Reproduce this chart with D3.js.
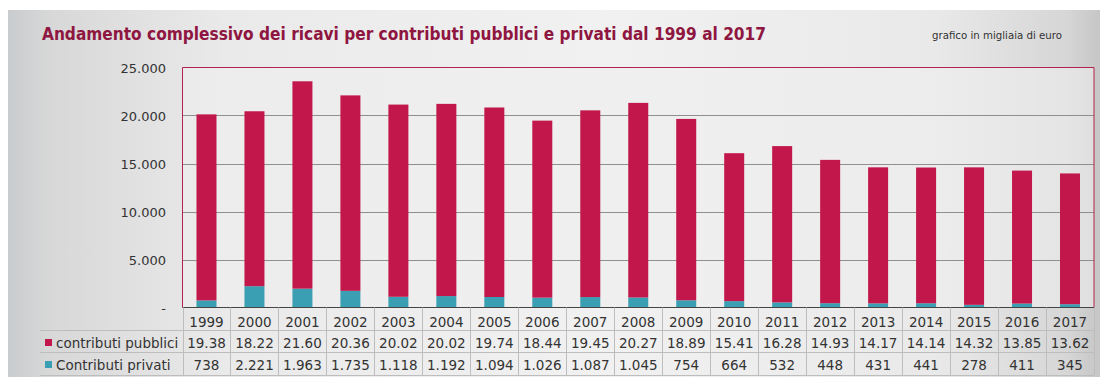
<!DOCTYPE html>
<html>
<head>
<meta charset="utf-8">
<script src="https://cdn.jsdelivr.net/npm/d3@7/dist/d3.min.js"></script>
<style>
  html, body { margin: 0; padding: 0; background: #ffffff; }
  svg { display: block; }
  text { font-family: "DejaVu Sans", Verdana, sans-serif; }
</style>
</head>
<body>
<svg id="chart" width="1100" height="381"></svg>
<script>
// Anni di riferimento
const years = ["1999","2000","2001","2002","2003","2004","2005","2006","2007","2008","2009","2010","2011","2012","2013","2014","2015","2016","2017"];
// Ricavi per contributi pubblici (migliaia di euro)
const pubblici = [19380,18220,21600,20360,20020,20020,19740,18440,19450,20270,18890,15410,16280,14930,14170,14140,14320,13850,13620];
// Ricavi per contributi privati (migliaia di euro)
const privati = [738,2221,1963,1735,1118,1192,1094,1026,1087,1045,754,664,532,448,431,441,278,411,345];
// Valori dell'asse verticale
const yTicks = [0,5000,10000,15000,20000,25000];
const seriesNames = ["contributi pubblici","Contributi privati"];

(function () {
const colPub = "#c2174b";
const colPriv = "#3a9fb3";

const svg = d3.select("#chart");
const W = 1100, H = 381;

// Sfondo del pannello con sfumatura grigia
const defs = svg.append("defs");
const g1 = defs.append("linearGradient").attr("id","panelGrad").attr("x1","0").attr("x2","1").attr("y1","0").attr("y2","0");
[["0%","#c9ccce"],["4%","#d8d8d8"],["20%","#eaeaea"],["55%","#f1f1f1"],["85%","#e9e9e9"],["97%","#d6d6d6"],["100%","#c6c6c6"]]
  .forEach(([o,c]) => g1.append("stop").attr("offset",o).attr("stop-color",c));
svg.append("rect").attr("x",8).attr("y",10).attr("width",W-8).attr("height",367).attr("fill","url(#panelGrad)");

// Titolo e nota
const title = svg.append("text")
  .attr("x",42).attr("y",40)
  .attr("fill","#8e1640")
  .attr("font-size",17.5).attr("font-weight","bold")
  .text("Andamento complessivo dei ricavi per contributi pubblici e privati dal 1999 al 2017");
const tl = title.node().getComputedTextLength();
if (tl > 724) title.attr("textLength",724).attr("lengthAdjust","spacingAndGlyphs");

const note = svg.append("text")
  .attr("x",932).attr("y",39)
  .attr("fill","#333")
  .attr("font-size",10.5)
  .text("grafico in migliaia di euro");
if (note.node().getComputedTextLength() > 130) note.attr("textLength",130).attr("lengthAdjust","spacingAndGlyphs");

// Area del grafico
const pLeft = 182.5, pRight = 1094, pTop = 67.5, pBottom = 307.5;
const x = d3.scaleBand().domain(years).range([pLeft,pRight]).paddingInner(0).paddingOuter(0);
const y = d3.scaleLinear().domain([0,25000]).range([pBottom,pTop]);

svg.append("rect").attr("x",pLeft).attr("y",pTop).attr("width",pRight-pLeft).attr("height",pBottom-pTop)
  .attr("fill","#eeeeee").attr("fill-opacity",0.6);

// Griglia orizzontale
svg.append("g").selectAll("line").data(yTicks.filter(v => v > 0 && v < 25000)).join("line")
  .attr("x1",pLeft).attr("x2",pRight)
  .attr("y1",d => Math.round(y(d))+0.5).attr("y2",d => Math.round(y(d))+0.5)
  .attr("stroke","#8f8f8f").attr("stroke-width",1);

// Etichette asse Y
const fmtIt = d3.formatLocale({decimal:",", thousands:".", grouping:[3], currency:["","€"]});
const fmtThousands = fmtIt.format(",.0f");
const yAxis = d3.axisLeft(y).tickValues(yTicks).tickSize(0).tickPadding(0)
  .tickFormat(d => d === 0 ? "-" : fmtThousands(d));
const ya = svg.append("g").attr("transform",`translate(${166},0)`).call(yAxis);
ya.select(".domain").remove();
ya.selectAll("text").attr("font-size",13).attr("fill","#333").attr("font-family","'DejaVu Sans', sans-serif")
  .attr("dy","0.35em");

// Barre impilate
const stackData = years.map((yr,i) => ({year: yr, pubblici: pubblici[i], privati: privati[i]}));
const stack = d3.stack().keys(["privati","pubblici"]);
const layers = stack(stackData);
const colors = {privati: colPriv, pubblici: colPub};
const barW = 20;
svg.append("g").selectAll("g").data(layers).join("g")
  .attr("fill", d => colors[d.key])
  .selectAll("rect").data(d => d).join("rect")
  .attr("x", d => x(d.data.year) + x.bandwidth()/2 - barW/2)
  .attr("width", barW)
  .attr("y", d => y(d[1]))
  .attr("height", d => y(d[0]) - y(d[1]));

// Bordo dell'area del grafico
const border = svg.append("g").attr("fill","none");
border.append("path").attr("d",`M${pLeft},${pBottom}V${pTop}H${pRight}V${pBottom}`).attr("stroke","#b3224d").attr("stroke-width",1);
border.append("line").attr("x1",pLeft).attr("x2",pRight).attr("y1",pBottom).attr("y2",pBottom).attr("stroke","#444").attr("stroke-width",1.2);

// Tabella dei dati
const legendLeft = 40;
const tbl = svg.append("g");
[330.5, 352.5, 375.5].forEach(yy =>
  tbl.append("line").attr("x1",legendLeft).attr("x2",pRight).attr("y1",yy).attr("y2",yy).attr("stroke","#bdbdbd"));
tbl.selectAll("line.v").data(years.concat(["end"])).join("line").attr("class","v")
  .attr("x1", (d,i) => Math.round(i < years.length ? x(d) : pRight) + 0.5)
  .attr("x2", (d,i) => Math.round(i < years.length ? x(d) : pRight) + 0.5)
  .attr("y1", pBottom).attr("y2", 375.5)
  .attr("stroke","#bdbdbd");

const cellText = (yy, fmt) => tbl.append("g").selectAll("text").data(years).join("text")
  .attr("x", d => x(d) + x.bandwidth()/2)
  .attr("y", yy)
  .attr("text-anchor","middle")
  .attr("font-size",13.5).attr("fill","#333")
  .text((d,i) => fmt(d,i));

cellText(326.5, d => d);
const fmtPub = d3.format(".2f");
cellText(348, (d,i) => fmtPub(pubblici[i]/1000));
cellText(370, (d,i) => fmtThousands(privati[i]));

// Legenda nella tabella
const legendRows = [{name: seriesNames[0], color: colPub, y: 343}, {name: seriesNames[1], color: colPriv, y: 365}];
const lg = svg.append("g").selectAll("g").data(legendRows).join("g");
lg.append("rect").attr("x",45).attr("y",d => d.y - 4).attr("width",7).attr("height",7).attr("fill",d => d.color);
lg.append("text").attr("x",56).attr("y",d => d.y + 5).attr("font-size",13.5).attr("fill","#333").text(d => d.name);
})();
</script>
</body>
</html>
